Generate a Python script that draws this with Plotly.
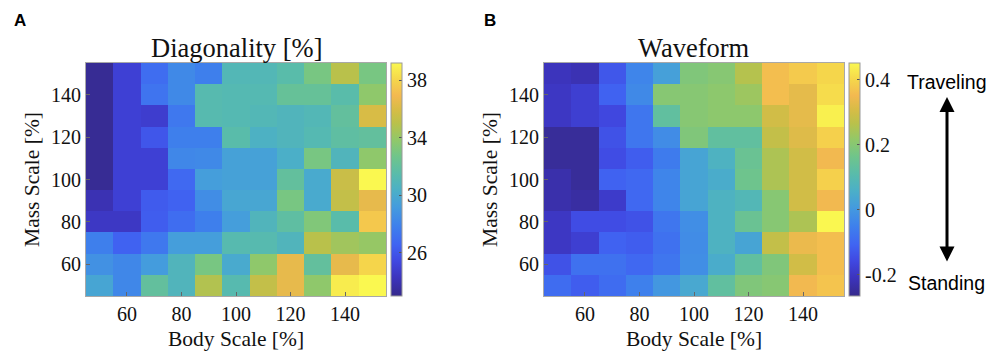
import plotly.graph_objects as go

body_scale = [50, 60, 70, 80, 90, 100, 110, 120, 130, 140, 150]
mass_scale = [50, 60, 70, 80, 90, 100, 110, 120, 130, 140, 150]

# rows listed from top (mass 150) to bottom (mass 50)
diag_top_down = [
    [23.2, 25.0, 27.0, 28.3, 27.8, 31.0, 31.0, 31.5, 33.0, 35.0, 33.0],
    [23.2, 25.0, 27.3, 28.3, 31.3, 31.2, 31.2, 32.2, 32.2, 31.5, 33.8],
    [23.2, 25.0, 24.8, 27.5, 31.3, 31.2, 31.0, 30.8, 31.0, 32.0, 36.0],
    [23.2, 25.0, 26.0, 27.8, 27.8, 31.5, 30.5, 30.8, 31.2, 31.8, 32.0],
    [23.2, 25.0, 25.0, 28.2, 28.3, 29.5, 29.5, 30.3, 33.0, 30.8, 33.8],
    [23.2, 25.0, 25.0, 26.8, 29.3, 29.5, 29.5, 32.0, 30.0, 35.5, 39.2],
    [24.0, 25.0, 26.2, 26.5, 28.5, 29.8, 29.8, 33.0, 30.0, 35.3, 36.5],
    [24.5, 24.5, 26.3, 27.0, 27.8, 29.3, 30.8, 31.8, 33.3, 31.5, 37.5],
    [27.8, 26.5, 27.5, 29.3, 29.3, 31.3, 31.3, 30.8, 35.0, 34.3, 34.0],
    [28.7, 28.2, 29.2, 30.8, 33.0, 30.0, 33.8, 36.5, 32.0, 36.5, 38.0],
    [29.7, 28.2, 32.0, 30.8, 34.8, 31.3, 35.3, 36.5, 33.8, 38.8, 39.2],
]

wave_top_down = [
    [-0.21, -0.22, -0.13, -0.04, 0.02, 0.19, 0.20, 0.26, 0.36, 0.38, 0.40],
    [-0.20, -0.18, -0.11, -0.03, 0.20, 0.20, 0.21, 0.23, 0.36, 0.33, 0.41],
    [-0.20, -0.18, -0.16, -0.07, 0.13, 0.20, 0.21, 0.21, 0.30, 0.33, 0.44],
    [-0.25, -0.25, -0.14, -0.07, -0.025, 0.19, 0.13, 0.13, 0.28, 0.32, 0.39],
    [-0.25, -0.25, -0.15, -0.12, -0.06, 0.03, 0.07, 0.15, 0.25, 0.30, 0.35],
    [-0.23, -0.25, -0.11, -0.10, -0.04, 0.03, 0.05, 0.16, 0.25, 0.30, 0.39],
    [-0.23, -0.24, -0.19, -0.10, -0.04, 0.03, 0.07, 0.09, 0.20, 0.30, 0.35],
    [-0.20, -0.15, -0.15, -0.14, -0.07, -0.02, 0.07, 0.15, 0.20, 0.25, 0.45],
    [-0.20, -0.18, -0.11, -0.12, -0.08, -0.025, 0.07, 0.03, 0.28, 0.34, 0.36],
    [-0.14, -0.08, -0.08, -0.10, -0.07, -0.02, 0.05, 0.13, 0.19, 0.30, 0.36],
    [-0.09, -0.12, -0.09, -0.05, 0.00, 0.04, 0.13, 0.19, 0.20, 0.35, 0.37],
]

diag_ticks = [26, 30, 34, 38]
wave_ticks = [-0.2, 0, 0.2, 0.4]
wave_ticktext = ["-0.2", "0", "0.2", "0.4"]
axis_ticks = [60, 80, 100, 120, 140]

diag = diag_top_down[::-1]
wave = wave_top_down[::-1]

parula = [
    [0.00, "rgb(54,42,140)"],
    [0.08, "rgb(60,52,190)"],
    [0.15, "rgb(64,72,225)"],
    [0.22, "rgb(64,100,242)"],
    [0.30, "rgb(62,128,236)"],
    [0.38, "rgb(68,155,222)"],
    [0.45, "rgb(75,175,200)"],
    [0.52, "rgb(88,187,172)"],
    [0.60, "rgb(112,197,138)"],
    [0.67, "rgb(145,200,105)"],
    [0.74, "rgb(185,193,75)"],
    [0.80, "rgb(215,188,70)"],
    [0.86, "rgb(243,185,80)"],
    [0.93, "rgb(245,215,75)"],
    [1.00, "rgb(250,248,80)"],
]

W, H = 989, 356
serif = "Liberation Serif"
sans = "Liberation Sans"

def px(x):
    return x / W

def py(y):
    return 1 - y / H

top, bot = 63, 296
ydom = [py(bot), py(top)]

fig = go.Figure()

def cbar(x0, ticks, ticktext=None):
    d = dict(
        x=px(x0), xanchor="left", xref="paper", xpad=0, ypad=0,
        y=(ydom[0] + ydom[1]) / 2, yanchor="middle", len=ydom[1] - ydom[0], lenmode="fraction",
        thickness=11, thicknessmode="pixels",
        outlinewidth=1, outlinecolor="#9a9a9a",
        tickvals=ticks, ticks="inside", ticklen=3, tickcolor="#555",
        tickfont=dict(family=serif, size=20, color="#111"),
    )
    if ticktext is not None:
        d["ticktext"] = ticktext
    return d

fig.add_trace(go.Heatmap(
    x=body_scale, y=mass_scale, z=diag,
    colorscale=parula, zmin=23.0, zmax=39.2,
    xaxis="x", yaxis="y",
    colorbar=cbar(391, diag_ticks),
))

fig.add_trace(go.Heatmap(
    x=body_scale, y=mass_scale, z=wave,
    colorscale=parula, zmin=-0.265, zmax=0.452,
    xaxis="x2", yaxis="y2",
    colorbar=cbar(849, wave_ticks, wave_ticktext),
))

axis_common = dict(
    range=[45, 155], tickvals=axis_ticks, ticks="inside", ticklen=4, tickcolor="#666",
    showline=True, mirror=True, linecolor="#a8a8a8", linewidth=1,
    showgrid=False, zeroline=False,
    tickfont=dict(family=serif, size=20, color="#111"),
)
xt = dict(font=dict(family=serif, size=21.5, color="#111"), standoff=6)
yt = dict(font=dict(family=serif, size=21.5, color="#111"), standoff=5)

fig.update_layout(
    width=W, height=H,
    margin=dict(l=0, r=0, t=0, b=0),
    paper_bgcolor="white", plot_bgcolor="white",
    xaxis=dict(domain=[px(86), px(386)], anchor="y", title=dict(text="Body Scale [%]", **xt), **axis_common),
    yaxis=dict(domain=ydom, anchor="x", title=dict(text="Mass Scale [%]", **yt), **axis_common),
    xaxis2=dict(domain=[px(544), px(844)], anchor="y2", title=dict(text="Body Scale [%]", **xt), **axis_common),
    yaxis2=dict(domain=ydom, anchor="x2", title=dict(text="Mass Scale [%]", **yt), **axis_common),
    showlegend=False,
)

annotations = [
    dict(text="<b>A</b>", x=px(12), y=py(21), xanchor="left", yanchor="middle",
         font=dict(family=sans, size=17, color="black")),
    dict(text="<b>B</b>", x=px(482), y=py(21), xanchor="left", yanchor="middle",
         font=dict(family=sans, size=17, color="black")),
    dict(text="Diagonality [%]", x=px(236), y=py(48), xanchor="center", yanchor="middle",
         font=dict(family=serif, size=26.5, color="#111")),
    dict(text="Waveform", x=px(694), y=py(48), xanchor="center", yanchor="middle",
         font=dict(family=serif, size=26.5, color="#111")),
    dict(text="Traveling", x=px(946), y=py(82), xanchor="center", yanchor="middle",
         font=dict(family=sans, size=19.5, color="black")),
    dict(text="Standing", x=px(946), y=py(283), xanchor="center", yanchor="middle",
         font=dict(family=sans, size=19.5, color="black")),
    dict(text="", x=px(947), y=py(97), ax=0, ay=166, xref="paper", yref="paper",
         showarrow=True, arrowhead=2, arrowside="end+start", arrowsize=1,
         arrowwidth=3, arrowcolor="black", standoff=0, startstandoff=0),
]
for a in annotations:
    a.setdefault("xref", "paper")
    a.setdefault("yref", "paper")
    a.setdefault("showarrow", False)
fig.update_layout(annotations=annotations)

fig.write_html(
    "out.html",
    config={"displayModeBar": False},
    post_script="document.body.style.margin='0';document.body.style.overflow='hidden';",
)
